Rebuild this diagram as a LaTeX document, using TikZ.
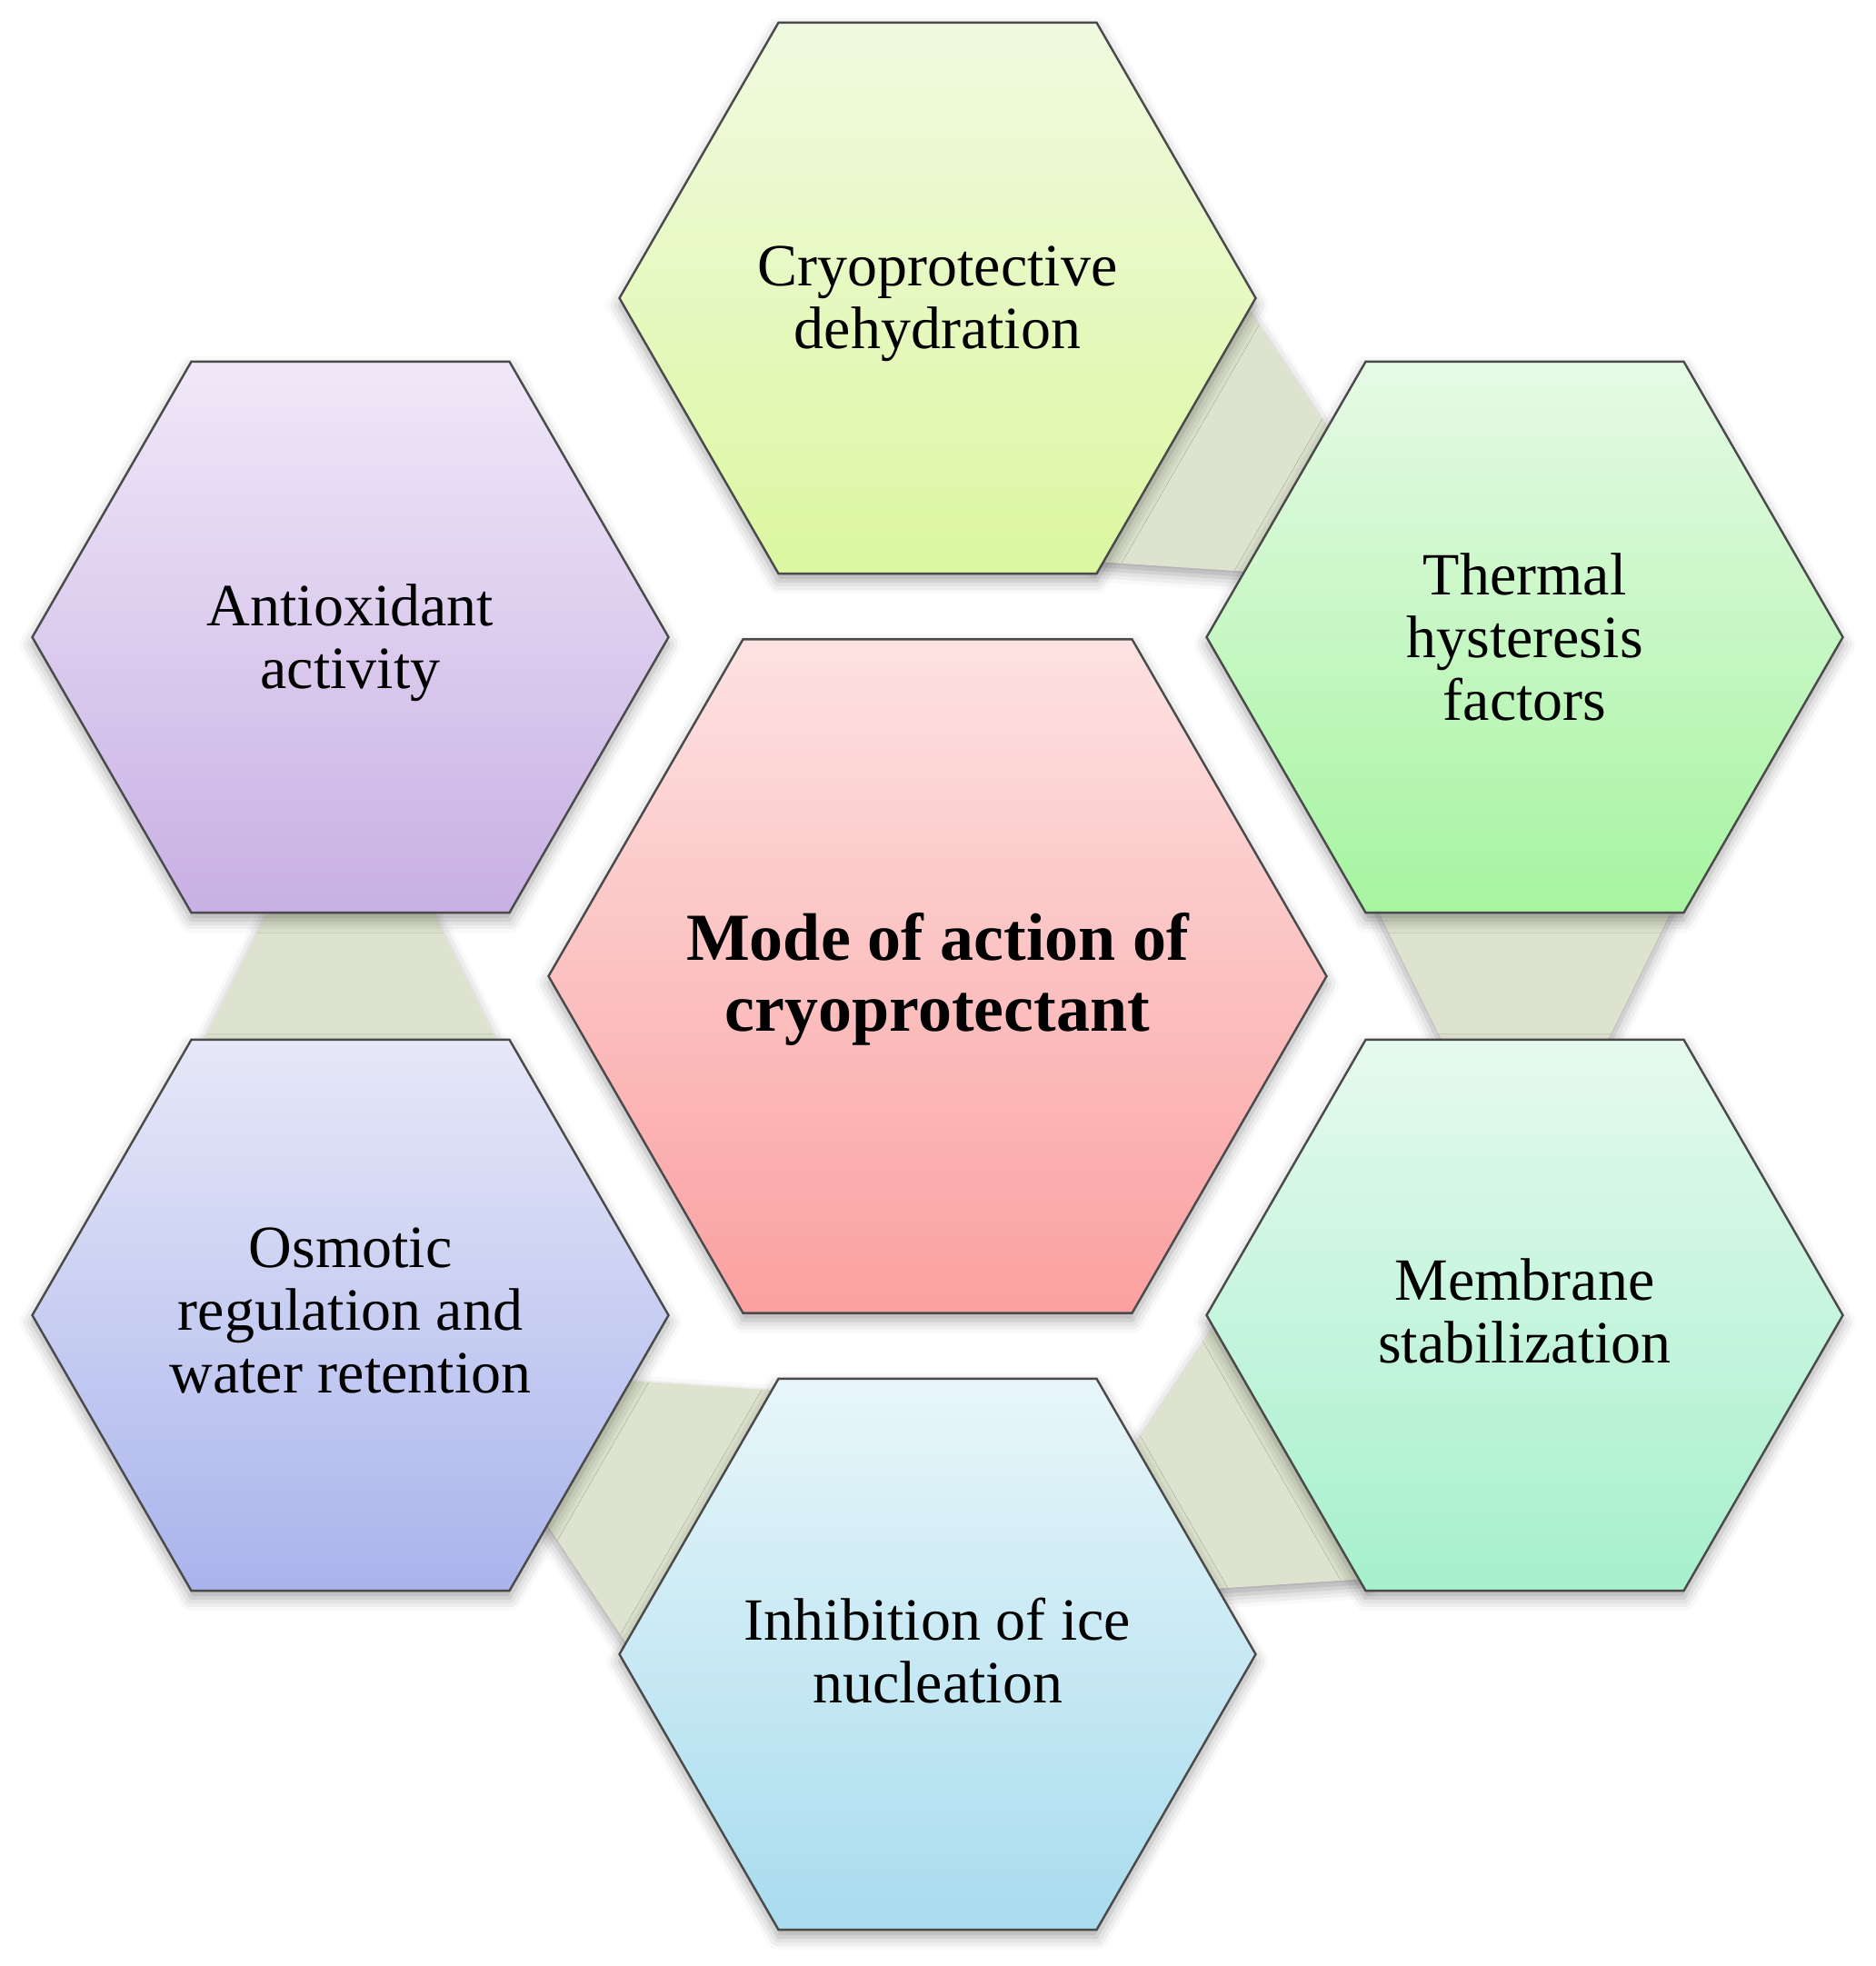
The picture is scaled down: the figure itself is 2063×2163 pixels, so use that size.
\documentclass[tikz,border=0pt]{standalone}
\usepackage{fontspec}
\setmainfont{Liberation Serif}
\usetikzlibrary{shapes.geometric,calc,shadows.blur,backgrounds}
\definecolor{hexline}{HTML}{4A4A4A}
\definecolor{connC}{HTML}{DDE3CE}
\definecolor{coreT}{HTML}{FDE2E2}
\definecolor{coreB}{HTML}{FBA0A0}
\definecolor{cryoT}{HTML}{F0FAE0}
\definecolor{cryoB}{HTML}{DBF7A0}
\definecolor{thermT}{HTML}{E6FAE6}
\definecolor{thermB}{HTML}{A6F4A0}
\definecolor{membT}{HTML}{E6FAEE}
\definecolor{membB}{HTML}{A6F0CC}
\definecolor{inhibT}{HTML}{E8F6FA}
\definecolor{inhibB}{HTML}{A8DCEE}
\definecolor{osmT}{HTML}{E6E8F8}
\definecolor{osmB}{HTML}{AAB4EC}
\definecolor{antiT}{HTML}{F0E8F8}
\definecolor{antiB}{HTML}{C8B0E4}
\newcommand\hexconn[2]{%
  \fill[connfill]
    ($(#1)!148pt!(#2)!82pt!90:(#2)$) --
    ($(#2)!148pt!(#1)!44pt!-90:(#1)$) --
    ($(#2)!148pt!(#1)!44pt!90:(#1)$) --
    ($(#1)!148pt!(#2)!82pt!-90:(#2)$) -- cycle;}
\begin{document}
\begin{tikzpicture}[x=0.5pt,y=-0.5pt,
  softshadow/.style={blur shadow={shadow xshift=0pt, shadow yshift=-4pt, shadow blur radius=7pt, shadow opacity=35}},
  hexbox/.style={regular polygon, regular polygon sides=6, minimum size=350pt,
    inner sep=0pt, draw=hexline, line width=1.2pt, softshadow},
  hextext/.style={align=center, inner sep=0pt, font=\fontsize{33}{34.5}\selectfont},
  coretext/.style={align=center, inner sep=0pt, font=\bfseries\fontsize{37}{39}\selectfont},
  connfill/.style={fill=connC, softshadow}]
\useasboundingbox (0,0) rectangle (2063,2163);

\node[hexbox, top color=cryoT, bottom color=cryoB,
  label={[hextext, yshift=-3pt]center:Cryoprotective\\dehydration}] (cryo) at (1031.5,328) {};
\node[hexbox, top color=thermT, bottom color=thermB,
  label={[hextext]center:Thermal\\hysteresis\\factors}] (therm) at (1677.5,701) {};
\node[hexbox, top color=membT, bottom color=membB,
  label={[hextext, yshift=2.5pt]center:Membrane\\stabilization}] (memb) at (1677.5,1447) {};
\node[hexbox, top color=inhibT, bottom color=inhibB,
  label={[hextext, yshift=2pt]center:Inhibition of ice\\nucleation}] (inhib) at (1031.5,1820) {};
\node[hexbox, top color=osmT, bottom color=osmB,
  label={[hextext, yshift=2.5pt]center:Osmotic\\regulation and\\water retention}] (osm) at (385.5,1447) {};
\node[hexbox, top color=antiT, bottom color=antiB,
  label={[hextext, yshift=-3pt]center:Antioxidant\\activity}] (anti) at (385.5,701) {};
\node[hexbox, minimum size=428pt, top color=coreT, bottom color=coreB,
  label={[coretext, yshift=-1.5pt]center:Mode of action of\\cryoprotectant}] (core) at (1031.5,1074) {};

\begin{scope}[on background layer]
  \hexconn{cryo}{therm}
  \hexconn{therm}{memb}
  \hexconn{memb}{inhib}
  \hexconn{inhib}{osm}
  \hexconn{osm}{anti}
\end{scope}
\end{tikzpicture}
\end{document}
